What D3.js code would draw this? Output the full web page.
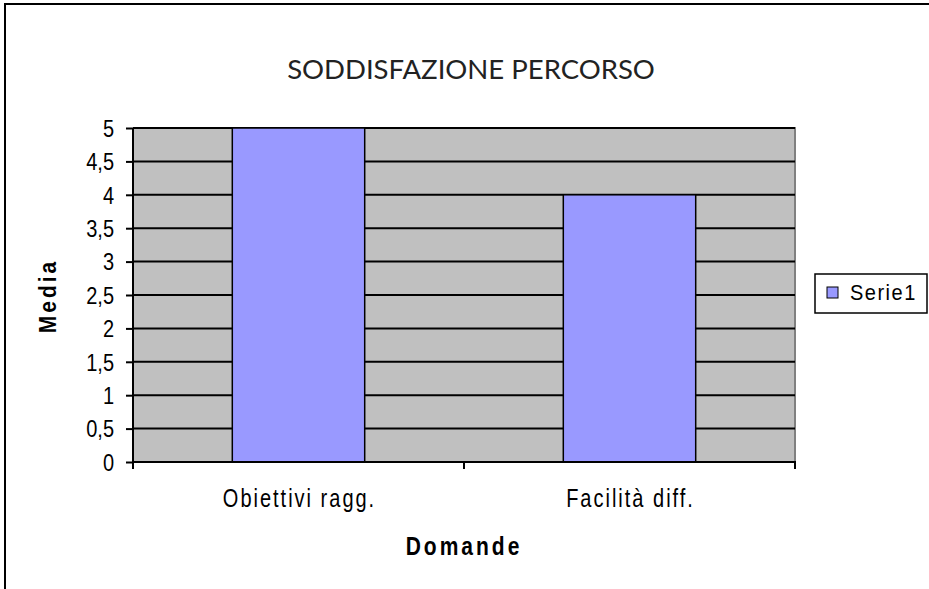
<!DOCTYPE html>
<html><head><meta charset="utf-8">
<script src="https://cdn.jsdelivr.net/npm/d3@7"></script>
<style>body{margin:0;background:#fff}svg{display:block}</style>
</head><body>
<script>
const categories = ["Obiettivi ragg.", "Facilità diff."];
const values = [5, 4];
const seriesName = "Serie1";
const yTicks = [0, 0.5, 1, 1.5, 2, 2.5, 3, 3.5, 4, 4.5, 5];
const title = "SODDISFAZIONE PERCORSO";
const xTitle = "Domande";
const yTitle = "Media";

const W = 929, H = 589;
const svg = d3.select("body").append("svg").attr("width", W).attr("height", H);
svg.append("rect").attr("width", W).attr("height", H).attr("fill", "#fff");
// outer border
svg.append("rect").attr("x", 5).attr("y", 4).attr("width", 940).attr("height", 600)
  .attr("fill", "none").attr("stroke", "#000").attr("stroke-width", 2);

const L = 133, R = 795, T = 128, B = 462;
const x = d3.scaleBand().domain(categories).range([L, R]).paddingInner(0.6).paddingOuter(0.3);
const y = d3.scaleLinear().domain([0, 5]).range([B, T]);

svg.append("rect").attr("x", L).attr("y", T).attr("width", R - L).attr("height", B - T).attr("fill", "#C0C0C0");
svg.append("path").attr("d", `M${L},${T}H${R}V${B}`).attr("fill", "none").attr("stroke", "#808080").attr("stroke-width", 2);

// gridlines
svg.append("g").selectAll("line").data(yTicks.filter(d => d > 0)).join("line")
  .attr("x1", L).attr("x2", R).attr("y1", d => y(d)).attr("y2", d => y(d))
  .attr("stroke", "#000").attr("stroke-width", 2);

// bars
svg.append("g").selectAll("rect").data(values).join("rect")
  .attr("x", (d, i) => x(categories[i])).attr("width", x.bandwidth())
  .attr("y", d => y(d)).attr("height", d => B - y(d))
  .attr("fill", "#9999FF").attr("stroke", "#000").attr("stroke-width", 1.5);

// y axis
const yAxis = d3.axisLeft(y).tickValues(yTicks).tickSize(7).tickPadding(12)
  .tickFormat(d => String(d).replace(".", ","));
const gy = svg.append("g").attr("transform", `translate(${L},0)`).call(yAxis)
  .attr("font-size", null).attr("font-family", null);
gy.select(".domain").attr("stroke", "#000").attr("stroke-width", 2).attr("d", `M0,${T}V${B}`);
gy.selectAll(".tick line").attr("stroke", "#000").attr("stroke-width", 2);
gy.selectAll(".tick text").style("font-family", "'Liberation Sans', Arial, sans-serif")
  .style("font-size", "20px").attr("fill", "#000").attr("dy", "0.36em")
  .attr("transform", "scale(1,1.15)");

// x axis
const xb = d3.scaleLinear().domain([0, categories.length]).range([L, R]);
const gx = svg.append("g").attr("transform", `translate(0,${B})`);
gx.append("line").attr("x1", L - 1).attr("x2", R + 1).attr("stroke", "#000").attr("stroke-width", 2);
gx.selectAll(".bt").data(d3.range(categories.length + 1)).join("line").attr("class", "bt")
  .attr("x1", d => xb(d)).attr("x2", d => xb(d)).attr("y1", 0).attr("y2", 7)
  .attr("stroke", "#000").attr("stroke-width", 2);
gx.selectAll("text").data(categories).join("text")
  .attr("transform", d => `translate(${x(d) + x.bandwidth() / 2 + 1},45) scale(1,1.25)`)
  .attr("text-anchor", "middle").style("font-family", "'Liberation Sans', Arial, sans-serif")
  .style("font-size", "20px").attr("letter-spacing", 2).text(d => d);

// titles
svg.append("text").attr("x", 471).attr("y", 79).attr("text-anchor", "middle")
  .style("font-family", "Lato, sans-serif").style("font-size", "27.5px").attr("fill", "#222").text(title);
svg.append("text").attr("transform", "translate(464,555) scale(1,1.2)").attr("text-anchor", "middle")
  .style("font-family", "'Liberation Sans', Arial, sans-serif").attr("font-weight", "bold")
  .style("font-size", "21px").attr("letter-spacing", 3).text(xTitle);
svg.append("text").attr("transform", "translate(56,296) rotate(-90) scale(1,1.15)").attr("text-anchor", "middle")
  .style("font-family", "'Liberation Sans', Arial, sans-serif").attr("font-weight", "bold")
  .style("font-size", "21px").attr("letter-spacing", 3).text(yTitle);

// legend
const lg = svg.append("g");
lg.append("rect").attr("x", 815).attr("y", 274).attr("width", 112).attr("height", 39)
  .attr("fill", "#fff").attr("stroke", "#000").attr("stroke-width", 1.5);
lg.append("rect").attr("x", 827).attr("y", 287).attr("width", 11).attr("height", 11)
  .attr("fill", "#9999FF").attr("stroke", "#000").attr("stroke-width", 1);
lg.append("text").attr("transform", "translate(850,300) scale(1,1.1)").style("font-family", "'Liberation Sans', Arial, sans-serif")
  .style("font-size", "20px").attr("letter-spacing", 1.5).text(seriesName);
</script>
</body></html>
